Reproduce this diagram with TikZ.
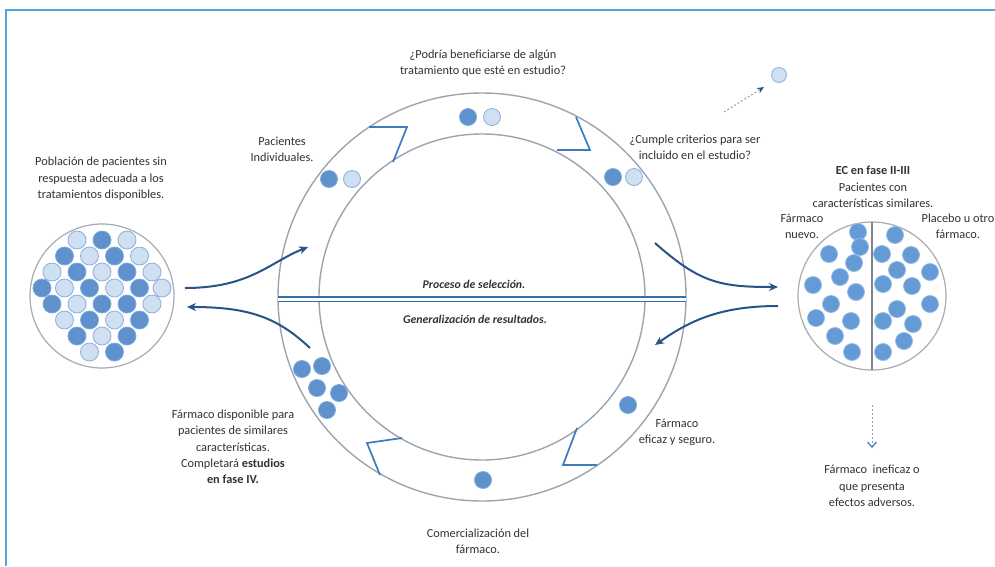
\documentclass[tikz,border=0pt]{standalone}
\usepackage{fontspec}
\setmainfont{Carlito}
\usetikzlibrary{arrows.meta}

\definecolor{framec}{RGB}{85,165,220}
\definecolor{ringc}{RGB}{155,165,177}
\definecolor{notchc}{RGB}{60,125,190}
\definecolor{navy}{RGB}{40,85,135}
\definecolor{dblc}{RGB}{55,110,170}
\definecolor{dkfill}{RGB}{95,145,205}
\definecolor{dkedge}{RGB}{125,168,218}
\definecolor{ltfill}{RGB}{208,224,243}
\definecolor{ltedge}{RGB}{140,175,215}
\definecolor{mdfill}{RGB}{100,155,215}
\definecolor{mdedge}{RGB}{150,185,225}
\definecolor{poolc}{RGB}{165,172,180}
\definecolor{txt}{RGB}{50,50,50}
\definecolor{hintc}{RGB}{150,160,175}

\newcommand\lblfont{\fontsize{12.3}{16.3}\selectfont}
\newcommand\emfont{\fontsize{11.8}{15}\selectfont}

\tikzset{
  lbl/.style={font=\lblfont, text=txt, align=center, inner sep=0pt},
  emlbl/.style={font=\emfont\bfseries\itshape, text=txt, inner sep=0pt},
  framestyle/.style={draw=framec, line width=2pt},
  ring/.style={draw=ringc, line width=1.4pt},
  notch/.style={draw=notchc, line width=1.7pt, line join=miter},
  flow/.style={draw=navy, line width=2pt, -{Stealth[length=9pt,width=8pt]}},
  dbl/.style={draw=dblc, line width=1.6pt, double=white, double distance=3pt},
  dk/.style={fill=dkfill, draw=dkedge, line width=0.8pt},
  lt/.style={fill=ltfill, draw=ltedge, line width=0.8pt},
  md/.style={fill=mdfill, draw=mdedge, line width=0.8pt},
  pool/.style={draw=poolc, line width=1.2pt},
  hint/.style={draw=hintc, line width=1pt, dash pattern=on 2pt off 2pt},
}

\begin{document}
\begin{tikzpicture}[x=1pt,y=-1pt]
\useasboundingbox (0,0) rectangle (995,566);
\fill[white] (0,0) rectangle (995,566);

% frame
\draw[framestyle] (6,566) -- (6,10) -- (995,10);

% central ring
\draw[ring] (482,297) circle[radius=204pt];
\draw[ring] (482,297) circle[radius=163pt];

% clockwise chevrons in the ring
\draw[notch] (369,127) -- (407,127) -- (393,162);
\draw[notch] (576,117) -- (590,150) -- (557,150);
\draw[notch] (577,428) -- (563,465) -- (597,465);
\draw[notch] (402,438) -- (367,443) -- (380,475);

% double line across the ring
\coordinate (selL) at (278,299);
\coordinate (selR) at (686,299);
\draw[dbl] (selL) -- (selR);
\node[emlbl] (sel) at (474,284) {Proceso de selección.};
\node[emlbl] (gen) at (475,319) {Generalización de resultados.};

% patients in the ring
\foreach \x/\y in {468/117, 329/179, 613/177, 302/369, 322/366, 317/388, 339/393, 327/410, 483/480, 628/405}
  \draw[dk] (\x,\y) circle[radius=8.5pt];
\foreach \x/\y in {492/117, 352/179, 634/177}
  \draw[lt] (\x,\y) circle[radius=8.5pt];

% population pool
\draw[pool] (102,296) circle[radius=72pt];
\foreach \x/\y in {102/240, 64.5/256, 114.5/256, 77/272, 127/272, 42/288, 89.5/288, 139.5/288,
                   52/304, 102/304, 127/304, 89.5/320, 139.5/320, 77/336, 127/336, 114.5/352}
  \draw[dk] (\x,\y) circle[radius=9pt];
\foreach \x/\y in {77/240, 127/240, 89.5/256, 139.5/256, 52/272, 102/272, 152/272, 64.5/288, 114.5/288, 162/288,
                   77/304, 152/304, 64.5/320, 114.5/320, 102/336, 89.5/352}
  \draw[lt] (\x,\y) circle[radius=9pt];

% trial groups
\draw[pool] (872,296) circle[radius=74pt];
\draw[draw=ringc!80!black, line width=1.3pt] (872,222) -- (872,370);
\foreach \x/\y in {858/232, 860/247, 829/254, 854/263, 840/277, 813/285, 856/292, 831/304, 816/318, 851/321, 835/336, 852/352,
                   895/235, 882/254, 911/255, 897/270, 930/272, 883/284, 912/286, 897/309, 930/304, 883/321, 913/324, 904/341, 883/352}
  \draw[md] (\x,\y) circle[radius=8.5pt];

% flow arrows
\coordinate (aL1s) at (185,288); \coordinate (aL1e) at (308,247);
\coordinate (aL2s) at (310,348); \coordinate (aL2e) at (187,307);
\coordinate (aR1s) at (655,243); \coordinate (aR1e) at (778,287);
\coordinate (aR2s) at (778,306); \coordinate (aR2e) at (655,345);
\draw[flow] (aL1s) .. controls (250,288) and (270,262) .. (aL1e);
\draw[flow] (aL2s) .. controls (278,318) and (250,307) .. (aL2e);
\draw[flow] (aR1s) .. controls (700,283) and (720,287) .. (aR1e);
\draw[flow] (aR2s) .. controls (718,306) and (688,322) .. (aR2e);

% excluded patient
\node[circle, lt, minimum size=15pt, inner sep=0pt] (lone) at (779,75) {};
\coordinate (exS) at (724,112); \coordinate (exE) at (764,87);
\draw[hint, -{Stealth[length=7pt,width=6pt,color=navy]}] (exS) -- (exE);

% failed drug
\coordinate (dnS) at (872,405); \coordinate (dnE) at (872,448);
\draw[hint, -{Straight Barb[length=5pt,width=9pt,color=notchc,line width=1.2pt]}] (dnS) -- (dnE);

% labels
\node[lbl] (qben) at (483,63) {¿Podría beneficiarse de algún\\tratamiento que esté en estudio?};
\node[lbl] (qind) at (282,149) {Pacientes\\Individuales.};
\node[lbl] (qcri) at (695,147) {¿Cumple criterios para ser\\incluido en el estudio?};
\node[lbl] (qpop) at (101,179) {Población de pacientes sin\\respuesta adecuada a los\\tratamientos disponibles.};
\node[lbl] (qec) at (873,187) {\textbf{EC en fase II-III}\\Pacientes con\\características similares.};
\node[lbl] (qnew) at (802,226) {Fármaco\\nuevo.};
\node[lbl] (qpla) at (958,226) {Placebo u otro\\fármaco.};
\node[lbl] (qdis) at (233,447) {Fármaco disponible para\\pacientes de similares\\características.\\Completará \textbf{estudios}\\\textbf{en fase IV.}};
\node[lbl] (qcom) at (478,541) {Comercialización del\\fármaco.};
\node[lbl] (qefi) at (677,432) {Fármaco\\eficaz y seguro.};
\node[lbl] (qine) at (872,486) {Fármaco\ \ ineficaz o\\que presenta\\efectos adversos.};
\end{tikzpicture}
\end{document}
